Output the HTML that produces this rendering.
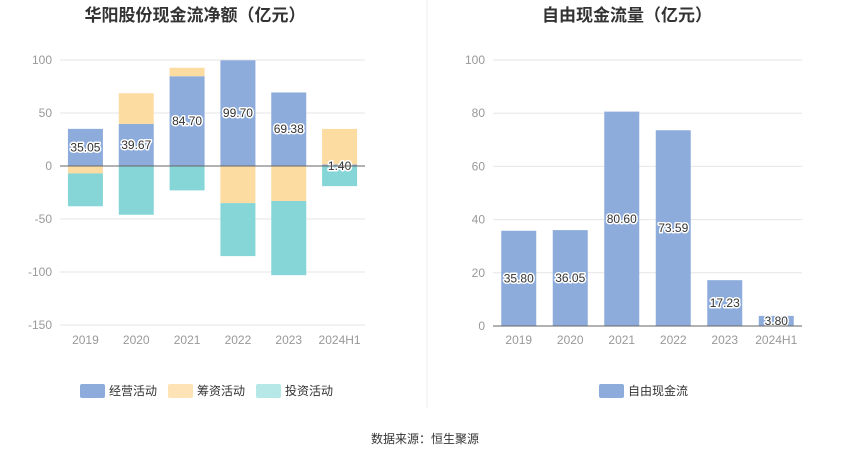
<!DOCTYPE html>
<html><head><meta charset="utf-8">
<style>
body{margin:0;background:#fff;font-family:"Liberation Sans","Noto Sans CJK SC",sans-serif;}
svg text{font-family:"Liberation Sans","Noto Sans CJK SC",sans-serif;}
.lbl{font-size:12px;fill:#333;paint-order:stroke;stroke:#fff;stroke-width:3px;stroke-linejoin:round}
</style></head><body>
<svg id="c" width="850" height="459" xmlns="http://www.w3.org/2000/svg">
<text x="195" y="21" text-anchor="middle" font-size="17" font-weight="bold" fill="#333">华阳股份现金流净额（亿元）</text>
<text x="627" y="21" text-anchor="middle" font-size="17" font-weight="bold" fill="#333">自由现金流量（亿元）</text>
<line x1="427" y1="0" x2="427" y2="408" stroke="#eee"/>
<g id="L"></g><g id="R"></g>
<rect x="80" y="384" width="25" height="14" rx="2" fill="#8dacdb"/>
<text x="109" y="395" font-size="12" fill="#333">经营活动</text>
<rect x="168" y="384" width="25" height="14" rx="2" fill="#fde3b5"/>
<text x="197" y="395" font-size="12" fill="#333">筹资活动</text>
<rect x="256" y="384" width="25" height="14" rx="2" fill="#b7e8e8"/>
<text x="285" y="395" font-size="12" fill="#333">投资活动</text>
<rect x="599" y="384" width="25" height="14" rx="2" fill="#8dacdb"/>
<text x="628" y="395" font-size="12" fill="#333">自由现金流</text>
<text x="425" y="443" text-anchor="middle" font-size="12" fill="#333">数据来源：恒生聚源</text>
</svg>
<script>
const cats=["2019","2020","2021","2022","2023","2024H1"];
const opVals=[35.05,39.67,84.70,99.70,69.38,1.40];
const finVals=[-7,29,8,-35,-33,33.6];
const invVals=[-31,-46,-23,-50,-70,-19];
const leftTicks=[100,50,0,-50,-100,-150];
const fcfVals=[35.80,36.05,80.60,73.59,17.23,3.80];
const rightTicks=[100,80,60,40,20,0];
const NS="http://www.w3.org/2000/svg";
function mk(p,t,a){const e=document.createElementNS(NS,t);for(const k in a)e.setAttribute(k,a[k]);p.appendChild(e);return e;}
// left
const L=document.getElementById('L');
const lx0=60,lx1=365,yL=v=>166-v*(106/100);
const bandL=(lx1-lx0)/cats.length,xL=i=>lx0+bandL*(i+0.5);
leftTicks.forEach(t=>{
 const g=mk(L,'line',{x1:lx0,x2:lx1,y1:yL(t),y2:yL(t),stroke:t===0?'#666':'#e6e6e6'});
 
 
 const tx=mk(L,'text',{x:52,y:yL(t)+4,'text-anchor':'end','font-size':12,fill:'#999'});tx.textContent=t;
 
 
});
L.appendChild(L.querySelector('line[stroke="#666"]'));
const bw=35;
cats.forEach((c,i)=>{
 let pos=0,neg=0;
 [[opVals[i],'#8dacdb','bar-operating'],[finVals[i],'#fddca2','bar-financing'],[invVals[i],'#86d6d8','bar-investing']].forEach(([v,col,n])=>{
  let a,b;
  if(v>=0){a=pos;b=pos+v;pos=b;}else{a=neg;b=neg+v;neg=b;}
  const r=mk(L,'rect',{x:xL(i)-bw/2,y:Math.min(yL(a),yL(b)),width:bw,height:Math.abs(yL(a)-yL(b)),fill:col});
  
  
 });
 const tx=mk(L,'text',{x:xL(i),y:cats.length&&c==="2024H1"?170:yL(opVals[i]/2)+4,'text-anchor':'middle',class:'lbl'});tx.textContent=opVals[i].toFixed(2);
 
 
 const cx=mk(L,'text',{x:xL(i),y:344,'text-anchor':'middle','font-size':12,fill:'#999'});cx.textContent=c;
 
 
});
L.appendChild(L.querySelector('line[stroke="#666"]'));
// right
const R=document.getElementById('R');
const rx0=493,rx1=802,yR=v=>326-v*2.66;
const bandR=(rx1-rx0)/cats.length,xR=i=>rx0+bandR*(i+0.5);
rightTicks.forEach(t=>{
 const g=mk(R,'line',{x1:rx0,x2:rx1,y1:yR(t),y2:yR(t),stroke:t===0?'#666':'#e6e6e6'});
 
 
 const tx=mk(R,'text',{x:485,y:yR(t)+4,'text-anchor':'end','font-size':12,fill:'#999'});tx.textContent=t;
 
 
});
cats.forEach((c,i)=>{
 const v=fcfVals[i];
 const r=mk(R,'rect',{x:xR(i)-bw/2,y:yR(v),width:bw,height:yR(0)-yR(v),fill:'#8dacdb'});
 
 
 const tx=mk(R,'text',{x:xR(i),y:yR(v/2)+4,'text-anchor':'middle',class:'lbl'});tx.textContent=v.toFixed(2);
 
 
 const cx=mk(R,'text',{x:xR(i),y:344,'text-anchor':'middle','font-size':12,fill:'#999'});cx.textContent=c;
 
 
});
R.appendChild(R.querySelector('line[stroke="#666"]'));
</script>
</body></html>
